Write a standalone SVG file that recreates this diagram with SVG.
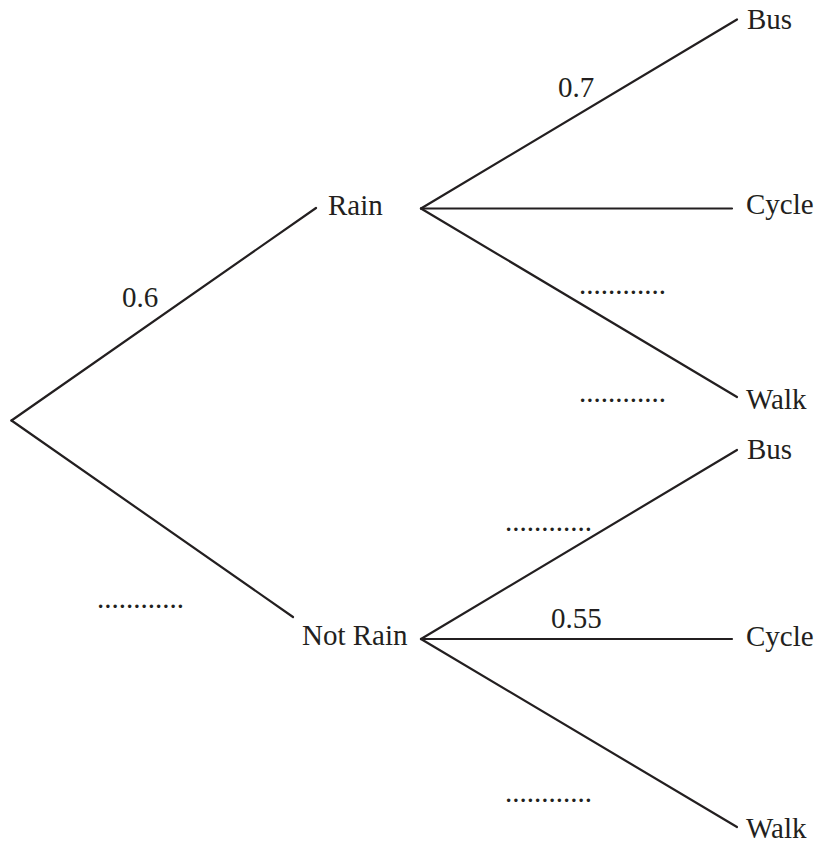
<svg xmlns="http://www.w3.org/2000/svg" width="822" height="843" viewBox="0 0 822 843">
<style>
text{font-family:"Liberation Serif","Times New Roman",serif;font-size:29px;fill:#231f20}
.e{stroke:#231f20;stroke-width:2.2;fill:none;stroke-linecap:round}
</style>
<rect width="822" height="843" fill="#fff"/>
<g id="connectors">
<line class="e" x1="11.5" y1="420.5" x2="316" y2="208"/>
<line class="e" x1="11.5" y1="420.5" x2="293" y2="617"/>
<line class="e" x1="421" y1="208.5" x2="737" y2="19.5"/>
<line class="e" x1="421" y1="208.5" x2="732" y2="208.5"/>
<line class="e" x1="421" y1="208.5" x2="737" y2="397"/>
<line class="e" x1="421" y1="639" x2="737" y2="450"/>
<line class="e" x1="421" y1="639" x2="732" y2="639"/>
<line class="e" x1="421" y1="639" x2="737" y2="827"/>
</g>
<g id="labels">
<text x="122" y="307">0.6</text>
<text x="97" y="608">............</text>
<text x="558" y="97">0.7</text>
<text x="579" y="294">............</text>
<text x="579" y="402">............</text>
<text x="505" y="531">............</text>
<text x="551" y="628">0.55</text>
<text x="505" y="802">............</text>
</g>
<g id="node-rain"><text x="328" y="215">Rain</text></g>
<g id="node-notrain"><text x="302" y="645">Not Rain</text></g>
<g id="node-bus1"><text x="747" y="29">Bus</text></g>
<g id="node-cycle1"><text x="746" y="214">Cycle</text></g>
<g id="node-walk1"><text x="746" y="409">Walk</text></g>
<g id="node-bus2"><text x="747" y="459">Bus</text></g>
<g id="node-cycle2"><text x="746" y="646">Cycle</text></g>
<g id="node-walk2"><text x="746" y="838">Walk</text></g>
</svg>
